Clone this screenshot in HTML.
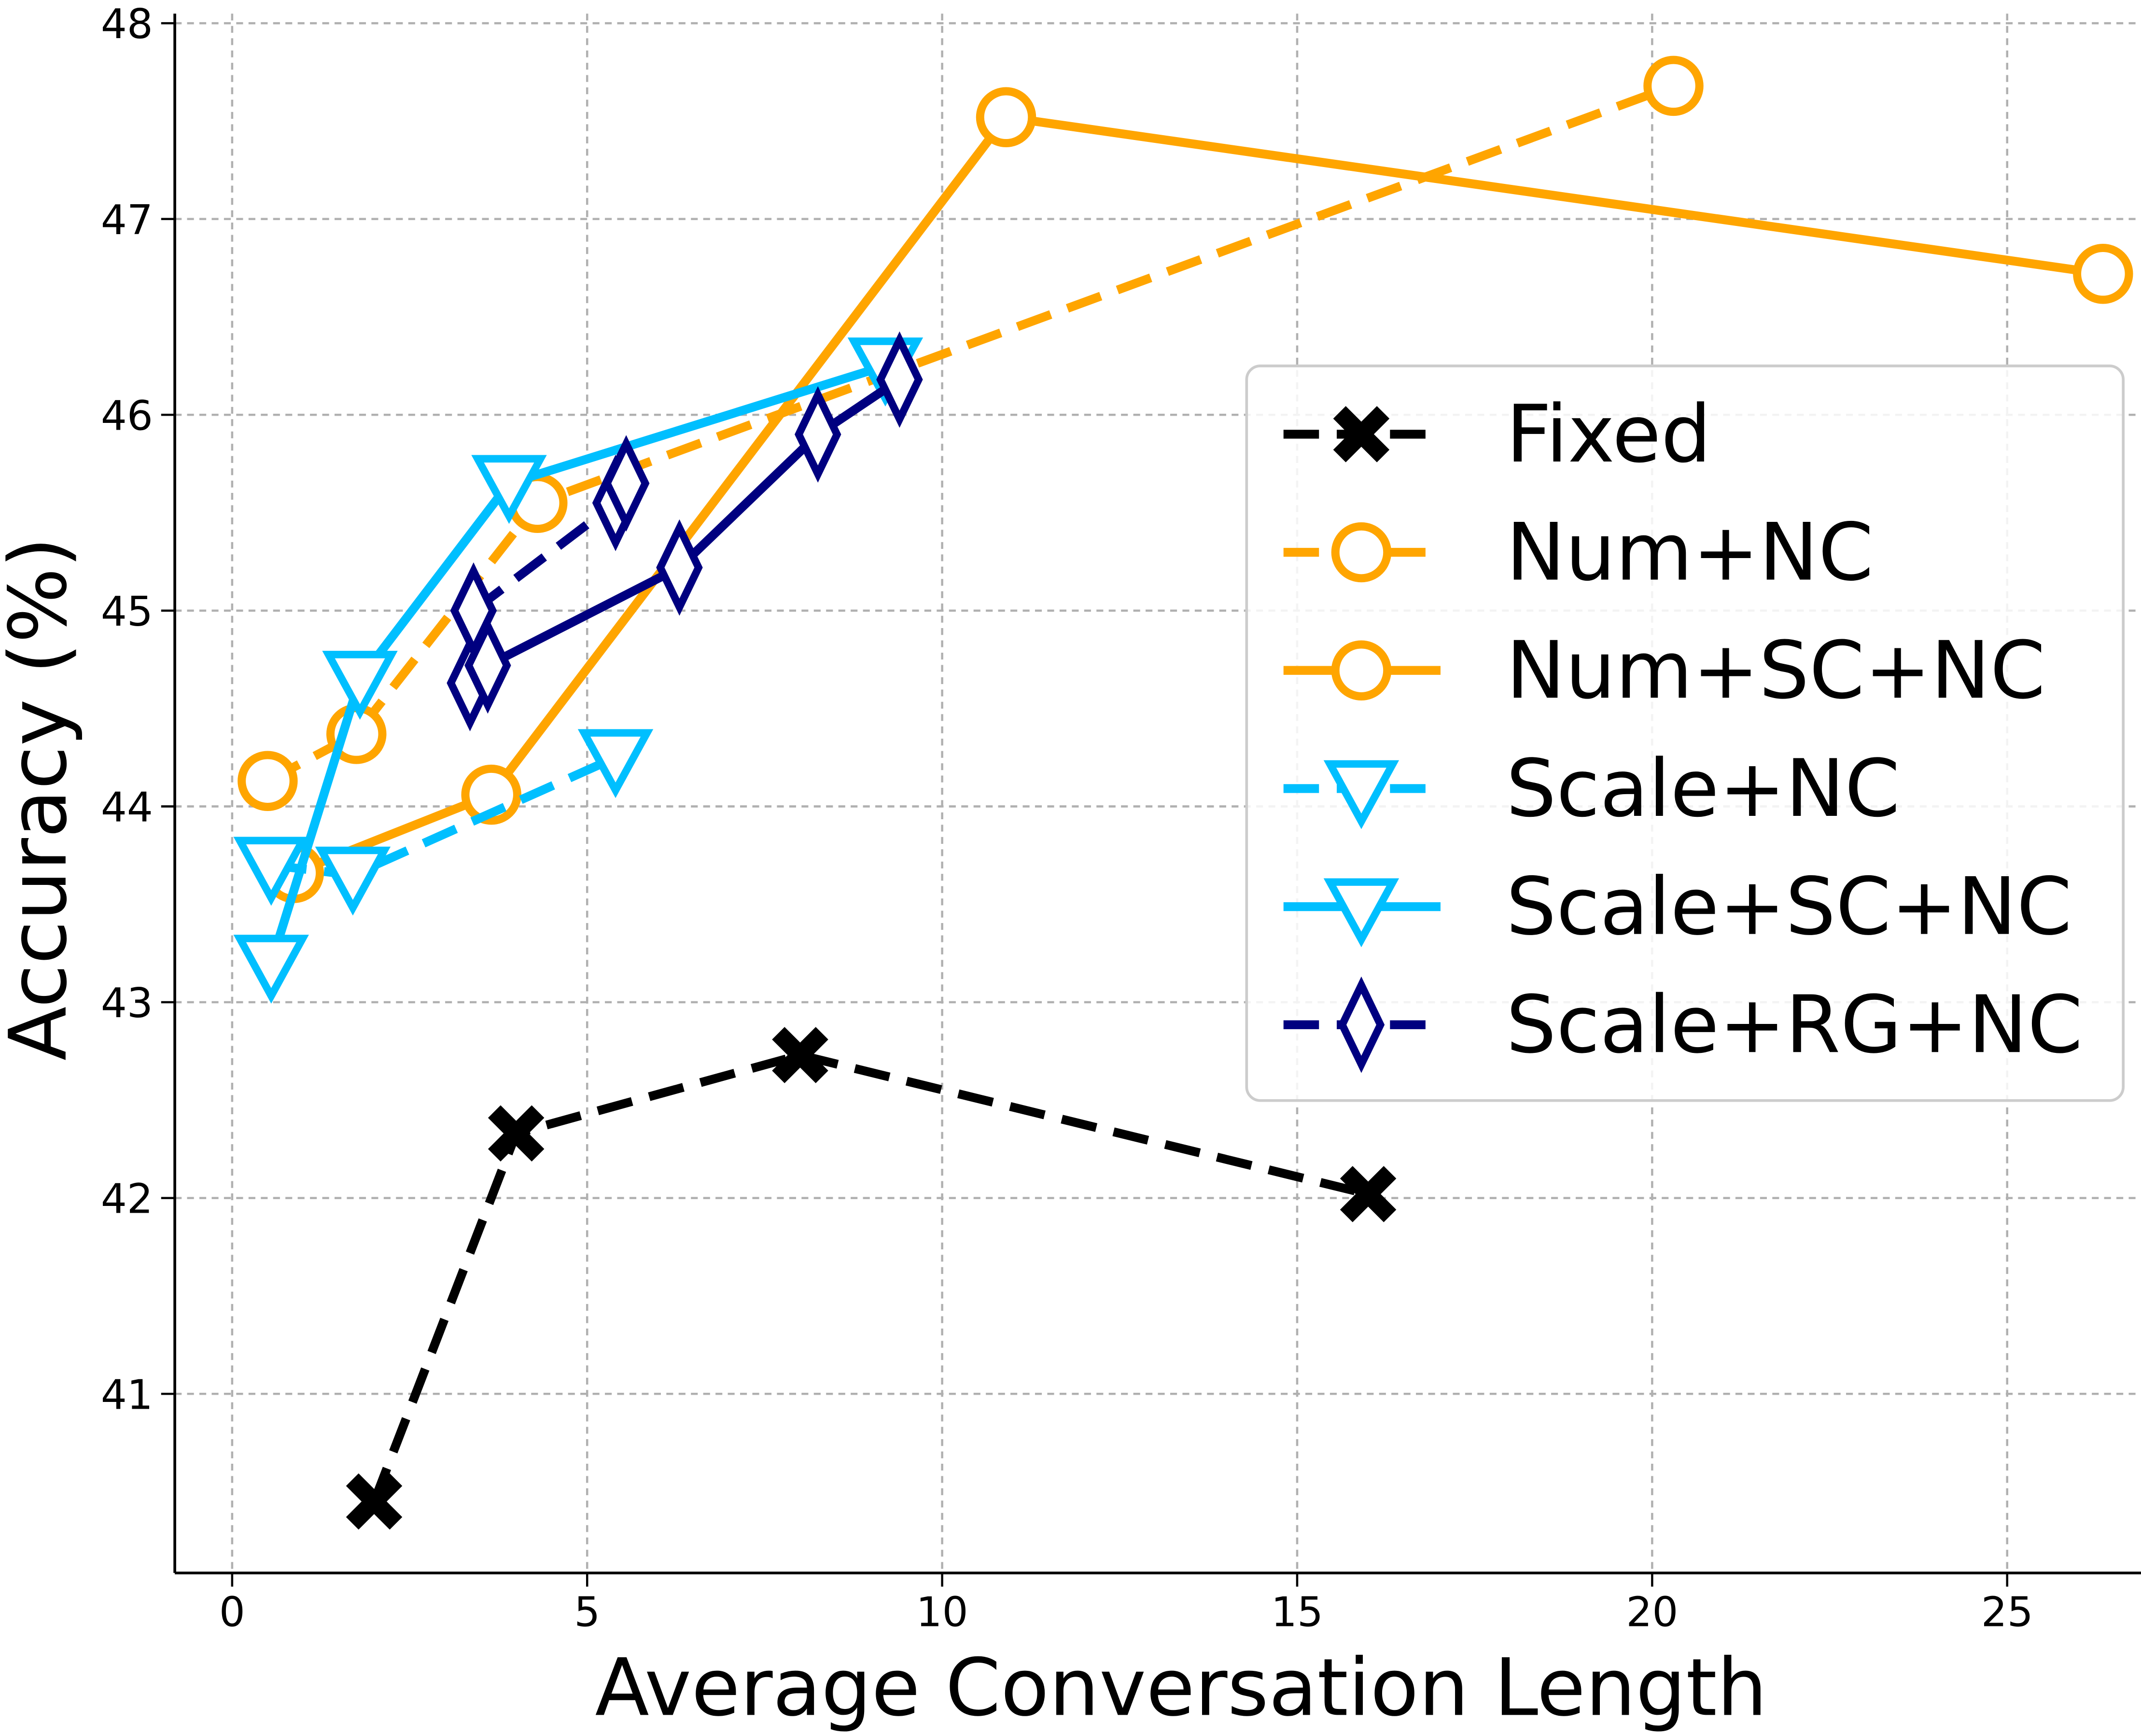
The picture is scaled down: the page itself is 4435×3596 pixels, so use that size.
<!DOCTYPE html>
<html><head><meta charset="utf-8"><style>
html,body{margin:0;padding:0;background:#fff}
svg{display:block}
text{font-family:"DejaVu Sans","Liberation Sans",sans-serif}
</style></head><body>
<svg id="chart" width="4435" height="3596" viewBox="0 0 1568 1271.4" xmlns="http://www.w3.org/2000/svg">
<g id="grid"></g>
<g id="axes"></g>
<g id="series"></g>
<g id="legend"></g>
</svg>
<script>
const xTicks=[0,5,10,15,20,25];
const yTicks=[41,42,43,44,45,46,47,48];
const fixedX=[2,4,8,16];
const fixedY=[40.45,42.33,42.73,42.02];
const numNcX=[0.5,1.75,4.3,20.3];
const numNcY=[44.13,44.37,45.55,47.68];
const numScNcX=[0.87,3.65,10.9,26.35];
const numScNcY=[43.66,44.06,47.52,46.72];
const scaleNcX=[0.55,1.7,5.4];
const scaleNcY=[43.7,43.65,44.25];
const scaleScNcX=[0.55,1.8,3.9,9.2];
const scaleScNcY=[43.2,44.65,45.65,46.25];
const scaleRgNcDashX=[3.4,5.4,5.55];
const scaleRgNcDashY=[45.0,45.55,45.65];
const scaleRgNcSolidX=[3.35,3.6,6.3,8.25,9.4];
const scaleRgNcSolidY=[44.63,44.72,45.22,45.9,46.18];

const NS="http://www.w3.org/2000/svg";
const X=v=>170+52*v;
const Y=v=>17+(48-v)*143.4;
function el(tag,attrs,parent){const e=document.createElementNS(NS,tag);for(const k in attrs)e.setAttribute(k,attrs[k]);parent.appendChild(e);return e;}
const grid=document.getElementById('grid'),axes=document.getElementById('axes'),series=document.getElementById('series'),legend=document.getElementById('legend');
const L=128,B=1152,R=1568,T=10;
xTicks.forEach(t=>{
 const g=el('line',{x1:X(t),x2:X(t),y1:T,y2:B,stroke:'#b0b0b0','stroke-width':1.6,'stroke-dasharray':'5,4'},grid);
 
 
 el('line',{x1:X(t),x2:X(t),y1:B,y2:B+10,stroke:'#000','stroke-width':1.6},axes);
 const tx=el('text',{x:X(t),y:B+39,'font-size':30,'text-anchor':'middle'},axes);tx.textContent=t;
 
 
});
yTicks.forEach(t=>{
 const g=el('line',{x1:L,x2:R,y1:Y(t),y2:Y(t),stroke:'#b0b0b0','stroke-width':1.6,'stroke-dasharray':'5,4'},grid);
 
 
 el('line',{x1:L-10,x2:L,y1:Y(t),y2:Y(t),stroke:'#000','stroke-width':1.6},axes);
 const tx=el('text',{x:L-16,y:Y(t)+11,'font-size':30,'text-anchor':'end'},axes);tx.textContent=t;
 
 
});
el('line',{x1:L,x2:L,y1:T,y2:B,stroke:'#000','stroke-width':2},axes);
el('line',{x1:L,x2:R,y1:B,y2:B,stroke:'#000','stroke-width':2},axes);
let xl=el('text',{x:865,y:1256,'font-size':58,'text-anchor':'middle'},axes);xl.textContent='Average Conversation Length';


let yl=el('text',{x:0,y:0,'font-size':58,'text-anchor':'middle',transform:'translate(48,585) rotate(-90)'},axes);yl.textContent='Accuracy (%)';



function marker(type,cx,cy,color,parent){
 let m;
 if(type==='x'){
  m=el('g',{},parent);
  el('line',{x1:cx-16,y1:cy-16,x2:cx+16,y2:cy+16,stroke:'#000','stroke-width':13},m);
  el('line',{x1:cx-16,y1:cy+16,x2:cx+16,y2:cy-16,stroke:'#000','stroke-width':13},m);
 } else if(type==='o'){
  m=el('circle',{cx:cx,cy:cy,r:19,fill:'#fff',stroke:color,'stroke-width':6},parent);
 } else if(type==='v'){
  m=el('polygon',{points:`${cx-23},${cy-18} ${cx+23},${cy-18} ${cx},${cy+24}`,fill:'#fff',stroke:color,'stroke-width':5.5,'stroke-linejoin':'miter'},parent);
 } else {
  m=el('polygon',{points:`${cx},${cy-29} ${cx+14},${cy} ${cx},${cy+29} ${cx-14},${cy}`,fill:'#fff',stroke:color,'stroke-width':5.5},parent);
 }
 return m;
}
function drawSeries(name,xs,ys,color,dash,type){
 const g=el('g',{},series);
 
 
 const pts=xs.map((x,i)=>X(x)+','+Y(ys[i])).join(' ');
 el('polyline',{points:pts,fill:'none',stroke:color,'stroke-width':6.5,'stroke-dasharray':dash?'26,13':'none'},g);
 xs.forEach((x,i)=>{const m=marker(type,X(x),Y(ys[i]),color,g);
  
  });
}
const ORA='#ffa500',CY='#00bfff',NV='#000080';
drawSeries('num-sc-nc',numScNcX,numScNcY,ORA,false,'o');
drawSeries('num-nc',numNcX,numNcY,ORA,true,'o');
drawSeries('scale-nc',scaleNcX,scaleNcY,CY,true,'v');
drawSeries('scale-sc-nc',scaleScNcX,scaleScNcY,CY,false,'v');
drawSeries('scale-rg-nc-solid',scaleRgNcSolidX,scaleRgNcSolidY,NV,false,'d');
drawSeries('scale-rg-nc-dashed',scaleRgNcDashX,scaleRgNcDashY,NV,true,'d');
drawSeries('fixed',fixedX,fixedY,'#000',true,'x');

el('rect',{x:913,y:268,width:642,height:538,rx:10,fill:'#fff','fill-opacity':0.85,stroke:'#ccc','stroke-width':2},legend);
const legItems=[['Fixed','#000',true,'x'],['Num+NC',ORA,true,'o'],['Num+SC+NC',ORA,false,'o'],['Scale+NC',CY,true,'v'],['Scale+SC+NC',CY,false,'v'],['Scale+RG+NC',NV,true,'d']];
legItems.forEach((it,i)=>{
 const y=318+i*86.5;
 const g=el('g',{},legend);
 
 
 el('line',{x1:940,x2:1055,y1:y,y2:y,stroke:it[1],'stroke-width':6.5,'stroke-dasharray':it[2]?'26,13':'none'},g);
 marker(it[3],997,y,it[1],g);
 const t=el('text',{x:1103,y:y+20,'font-size':58},g);t.textContent=it[0];
});
</script>
</body></html>
